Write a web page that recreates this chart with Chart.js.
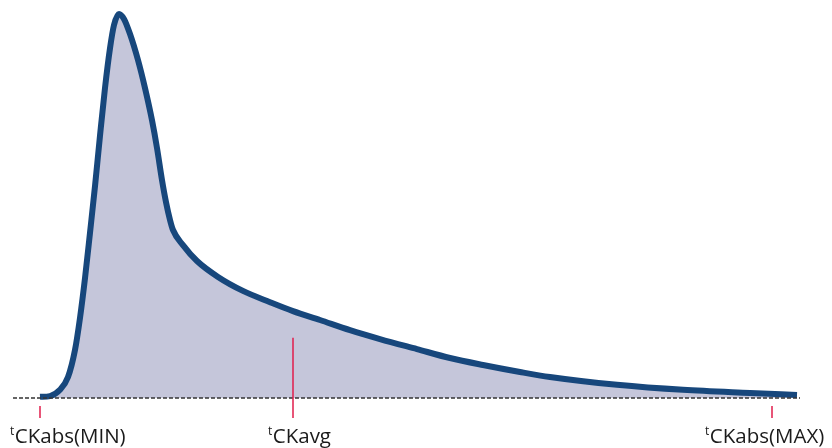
<!DOCTYPE html>
<html>
<head>
<meta charset="utf-8">
<script src="https://cdn.jsdelivr.net/npm/chart.js@4.4.0/dist/chart.umd.min.js"></script>
<style>
  html, body { margin: 0; padding: 0; background: #fff; }
  #wrap { width: 832px; height: 448px; position: relative; }
</style>
</head>
<body>
<div id="wrap"><canvas id="chart"></canvas></div>
<script>
// tCK distribution (x in % of window, y in % of peak)
const tValues = [3.43, 4.70, 5.97, 6.99, 7.88, 8.51, 9.15, 9.78, 10.42, 11.05, 11.69, 12.33, 12.83, 13.47,
  14.10, 14.87, 15.88, 16.77, 17.66, 18.30, 18.93, 19.44, 19.95, 20.33, 21.60, 23.38, 26.05, 29.22,
  32.66, 35.58, 39.01, 42.82, 46.63, 51.33, 55.53, 59.72, 64.42, 68.23, 76.75, 85.13, 93.65, 99.62];
const density = [0.3, 0.5, 2.1, 5.4, 12.4, 20.6, 30.9, 42.5, 54.6, 67.5, 79.9, 90.2, 96.1, 99.0,
  97.7, 93.8, 87.1, 79.9, 71.6, 64.4, 56.2, 50.5, 45.9, 43.3, 39.4, 35.3, 31.2, 27.6,
  24.7, 22.4, 20.1, 17.5, 15.2, 12.6, 10.3, 8.5, 6.7, 5.4, 3.4, 2.1, 1.3, 0.8];

// markers on the time axis
const markerNames = ['CKabs(MIN)', 'CKavg', 'CKabs(MAX)'];
const markerPos = [3.4, 35.6, 96.4];
const markerTop = [0, 15.5, 0];

const markerPlugin = {
  id: 'markers',
  afterDatasetsDraw(chart) {
    const { ctx, chartArea, scales } = chart;
    const y0 = scales.y.getPixelForValue(0);
    ctx.save();
    // dotted baseline
    ctx.strokeStyle = '#333';
    ctx.lineWidth = 1.3;
    ctx.setLineDash([4, 2]);
    ctx.beginPath();
    ctx.moveTo(chartArea.left, y0);
    ctx.lineTo(chartArea.right, y0);
    ctx.stroke();
    ctx.setLineDash([]);

    const offsets = [-30, -25, -67];
    markerPos.forEach((v, i) => {
      const x = Math.round(scales.x.getPixelForValue(v));
      const top = markerTop[i] > 0 ? scales.y.getPixelForValue(markerTop[i]) : y0 + 8;
      ctx.strokeStyle = '#e11d4b';
      ctx.lineWidth = 1.5;
      ctx.beginPath();
      ctx.moveTo(x, top);
      ctx.lineTo(x, y0 + 20);
      ctx.stroke();

      // label with superscript t
      const lx = x + offsets[i];
      const base = y0 + 45;
      ctx.fillStyle = '#1a1a1a';
      ctx.textBaseline = 'alphabetic';
      ctx.textAlign = 'left';
      ctx.font = '12px "Open Sans"';
      ctx.fillText('t', lx, base - 8);
      const tw = ctx.measureText('t').width;
      ctx.font = '20.5px "Open Sans"';
      ctx.fillText(markerNames[i], lx + tw + 0.5, base);
    });
    ctx.restore();
  }
};

new Chart(document.getElementById('chart'), {
  type: 'line',
  data: {
    datasets: [{
      data: tValues.map((t, i) => ({ x: t, y: density[i] })),
      borderColor: '#17477c',
      borderWidth: 6,
      borderCapStyle: 'butt',
      borderJoinStyle: 'round',
      backgroundColor: '#c5c6da',
      fill: 'origin',
      pointRadius: 0,
      cubicInterpolationMode: 'monotone',
      clip: false
    }]
  },
  options: {
    responsive: true,
    maintainAspectRatio: false,
    animation: false,
    layout: { padding: { left: 13, right: 32, top: 10, bottom: 50 } },
    plugins: {
      legend: { display: false },
      tooltip: { enabled: false }
    },
    scales: {
      x: { type: 'linear', min: 0, max: 100, display: false },
      y: { min: 0, max: 100, display: false }
    }
  },
  plugins: [markerPlugin]
});
</script>
</body>
</html>
